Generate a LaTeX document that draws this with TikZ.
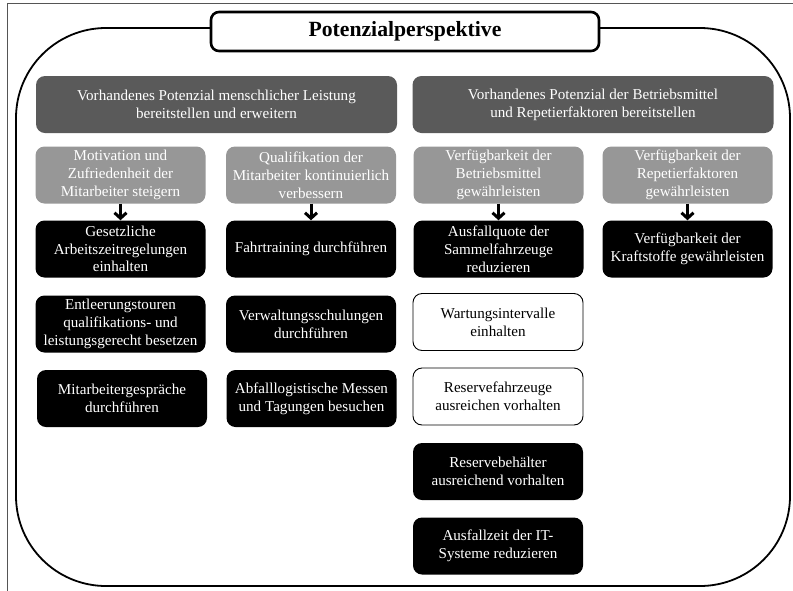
\documentclass[tikz,border=0pt]{standalone}
\usepackage{fontspec}
\setmainfont{Liberation Serif}
\usetikzlibrary{arrows.meta}

\definecolor{headgray}{HTML}{5A5A5A}
\definecolor{subgray}{HTML}{979797}
\definecolor{framegray}{HTML}{555555}

\tikzset{
  box/.style={rounded corners=9pt, align=center, inner sep=0pt, minimum height=57pt,
    minimum width=170pt, font=\fontsize{15.1}{17.8}\selectfont},
  head/.style={box, fill=headgray, text=white, minimum width=361pt},
  sub/.style={box, fill=subgray, text=white},
  task/.style={box, fill=black, text=white},
  taskw/.style={box, draw=black, line width=0.9pt, fill=white},
  down/.style={-{Straight Barb[length=5.5pt,width=12pt]}, line width=3pt}
}

\begin{document}
\begin{tikzpicture}[x=1pt, y=-1pt]
\clip (0,0) rectangle (793,590);
\fill[white] (0,0) rectangle (793,590);

% Frame and outer rounded box
\draw[framegray, line width=1pt] (7,3) rectangle (820,620);
\draw[line width=1.8pt, rounded corners=90pt] (16,28) rectangle (790,586);

% Title
\node[draw, fill=white, line width=2.6pt, rounded corners=8pt, minimum width=388pt,
  minimum height=39pt, inner sep=0pt, font=\fontsize{21.7}{26}\selectfont\bfseries]
  (title) at (405,31.5) {Potenzialperspektive};

% Headers
\node[head] (h1) at (216.5,104.5) {Vorhandenes Potenzial menschlicher Leistung\\bereitstellen und erweitern};
\node[head] (h2) at (593,104.5) {Vorhandenes Potenzial der Betriebsmittel\\und Repetierfaktoren bereitstellen};

% Sub goals
\node[sub] (s1) at (120.5,175) {Motivation und\\Zufriedenheit der\\Mitarbeiter steigern};
\node[sub] (s2) at (311,175) {Qualifikation der\\Mitarbeiter kontinuierlich\\verbessern};
\node[sub] (s3) at (498.5,175) {Verfügbarkeit der\\Betriebsmittel\\gewährleisten};
\node[sub] (s4) at (687.5,175) {Verfügbarkeit der\\Repetierfaktoren\\gewährleisten};

% Measures, first column
\node[task] (t11) at (120.5,249) {Gesetzliche\\Arbeitszeitregelungen\\einhalten};
\node[task] (t12) at (120.5,324) {Entleerungstouren\\qualifikations- und\\leistungsgerecht besetzen};
\node[task] (t13) at (122,398.5) {Mitarbeitergespräche\\durchführen};

% Measures, second column
\node[task] (t21) at (311,249) {Fahrtraining durchführen};
\node[task] (t22) at (311,324) {Verwaltungsschulungen\\durchführen};
\node[task] (t23) at (311.5,398.5) {Abfalllogistische Messen\\und Tagungen besuchen};

% Measures, third column
\node[task] (t31) at (498.5,249) {Ausfallquote der\\Sammelfahrzeuge\\reduzieren};
\node[taskw] (t32) at (498,322) {Wartungsintervalle\\einhalten};
\node[taskw] (t33) at (498,396.5) {Reservefahrzeuge\\ausreichen vorhalten};
\node[task] (t34) at (498,471.5) {Reservebehälter\\ausreichend vorhalten};
\node[task] (t35) at (498,546) {Ausfallzeit der IT-\\Systeme reduzieren};

% Measures, fourth column
\node[task] (t41) at (687.5,249) {Verfügbarkeit der\\Kraftstoffe gewährleisten};

% Arrows
\draw[down] (s1) -- (t11);
\draw[down] (s2) -- (t21);
\draw[down] (s3) -- (t31);
\draw[down] (s4) -- (t41);
\end{tikzpicture}
\end{document}
